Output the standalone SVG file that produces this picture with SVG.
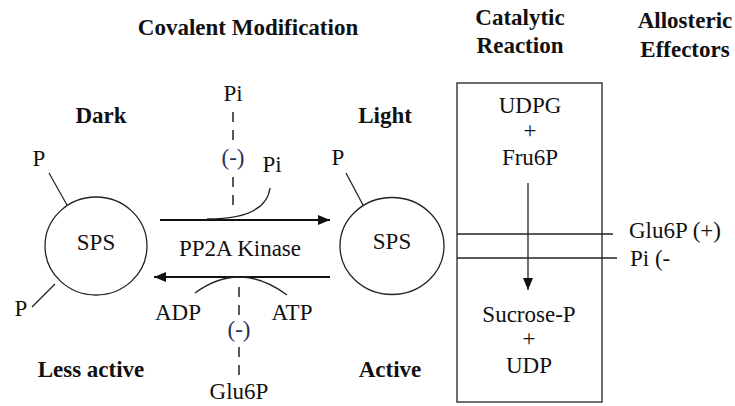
<svg xmlns="http://www.w3.org/2000/svg" width="735" height="406" viewBox="0 0 735 406">
<defs>
<style>
text{fill:#111;}
.t{font-size:23px;}
.b{font-size:23px;font-weight:bold;}
.c{text-anchor:middle;}
.neg{fill:#24325f;}
.ln{stroke:#222;stroke-width:1.3;fill:none;}
.ar{stroke:#111;stroke-width:2;fill:none;}
.da{stroke:#222;stroke-width:1.5;fill:none;stroke-dasharray:10 8;}
</style>
<marker id="ah" viewBox="0 0 12 10" refX="12" refY="5" markerWidth="12" markerHeight="10" markerUnits="userSpaceOnUse" orient="auto">
<path d="M0,0 L12,5 L0,10 Z" fill="#111"/>
</marker>
</defs>
<rect width="735" height="406" fill="#fff"/>
<g font-family="Liberation Serif, DejaVu Serif, serif">
<g id="titles">
<text class="b c" x="248" y="35">Covalent Modification</text>
<text class="b c" x="520" y="25">Catalytic</text>
<text class="b c" x="520" y="53">Reaction</text>
<text class="b c" x="685" y="28">Allosteric</text>
<text class="b c" x="685" y="57">Effectors</text>
<text class="b c" x="101" y="123">Dark</text>
<text class="b c" x="385" y="123">Light</text>
<text class="b c" x="91" y="377">Less active</text>
<text class="b c" x="390" y="377">Active</text>
</g>

<g id="sps-dark">
<ellipse class="ln" cx="96" cy="246" rx="51" ry="49"/>
<text class="t c" x="96" y="250">SPS</text>
<line class="ln" x1="49" y1="173" x2="67" y2="205"/>
<text class="t c" x="39" y="166">P</text>
<line class="ln" x1="55" y1="284" x2="32" y2="307"/>
<text class="t c" x="21" y="316">P</text>
</g>

<g id="sps-light">
<ellipse class="ln" cx="392" cy="246" rx="52" ry="48.5"/>
<text class="t c" x="392" y="249">SPS</text>
<line class="ln" x1="346" y1="173" x2="363" y2="205"/>
<text class="t c" x="338" y="165">P</text>
</g>

<g id="reaction-box">
<rect class="ln" x="457" y="83" width="145" height="319"/>
<text class="t c" x="530" y="113">UDPG</text>
<text class="t c" x="530" y="138">+</text>
<text class="t c" x="530" y="165">Fru6P</text>
<text class="t c" x="529" y="322">Sucrose-P</text>
<text class="t c" x="529" y="346">+</text>
<text class="t c" x="529" y="373">UDP</text>
</g>

<g id="effectors">
<text class="t" x="629" y="238">Glu6P (+)</text>
<text class="t" x="630" y="266">Pi (-</text>
</g>

<g id="modifiers">
<text class="t c" x="233" y="101">Pi</text>
<text class="t c neg" x="233" y="165">(-)</text>
<text class="t c" x="272" y="172">Pi</text>
<text class="t c" x="240" y="256">PP2A Kinase</text>
<text class="t c" x="178" y="320">ADP</text>
<text class="t c" x="292" y="320">ATP</text>
<text class="t c neg" x="239" y="337">(-)</text>
<text class="t c" x="239" y="399">Glu6P</text>
</g>
</g>
<g id="connectors">
<line class="ar" x1="160" y1="220" x2="330" y2="220" marker-end="url(#ah)"/>
<line class="ar" x1="330" y1="277" x2="154" y2="277" marker-end="url(#ah)"/>
<path class="ln" d="M270,188 Q266,219 207,219"/>
<path class="ln" d="M195,293 Q240,260 287,295"/>
<line class="da" x1="233" y1="112" x2="233" y2="146"/>
<line class="da" x1="233" y1="177" x2="233" y2="211"/>
<line class="da" x1="239" y1="287" x2="239" y2="316"/>
<line class="da" x1="239" y1="347" x2="239" y2="378"/>
<line class="ln" x1="528" y1="183" x2="528" y2="290" marker-end="url(#ah)"/>
<line class="ln" x1="457" y1="234" x2="613" y2="234"/>
<line class="ln" x1="457" y1="258" x2="617" y2="258"/>
</g>
</svg>
